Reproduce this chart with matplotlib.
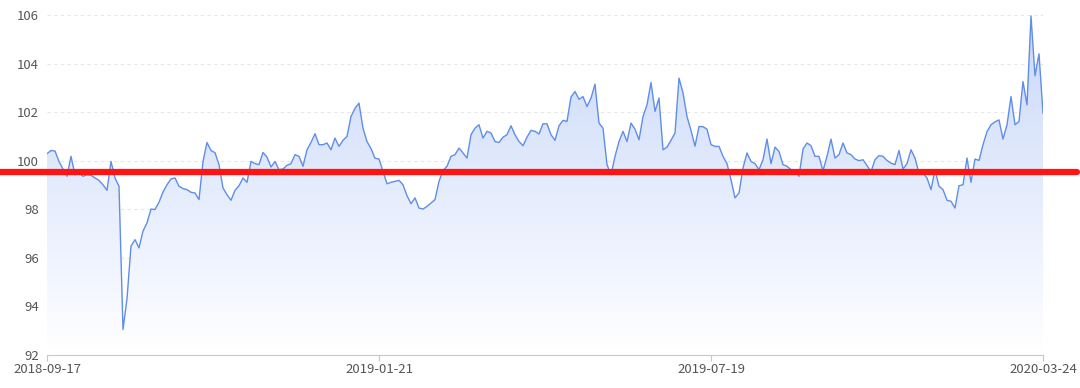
import numpy as np
import matplotlib
matplotlib.use("Agg")
import matplotlib.pyplot as plt
from matplotlib.colors import LinearSegmentedColormap

plt.rcParams['font.family'] = ['Noto Sans CJK SC', 'DejaVu Sans']

# values, one per category step
values = [
    100.29, 100.42, 100.40, 99.97, 99.66, 99.36, 100.18, 99.42, 99.49, 99.36,
    99.42, 99.40, 99.29, 99.19, 99.01, 98.78, 99.97, 99.29, 98.95, 93.05,
    94.32, 96.48, 96.75, 96.41, 97.10, 97.44, 98.01, 97.99, 98.29, 98.71,
    99.01, 99.25, 99.29, 98.95, 98.85, 98.81, 98.70, 98.67, 98.40, 99.97,
    100.75, 100.42, 100.33, 99.84, 98.88, 98.60, 98.37, 98.78, 98.97, 99.29,
    99.11, 99.97, 99.88, 99.84, 100.34, 100.15, 99.74, 99.97, 99.63, 99.66,
    99.81, 99.88, 100.25, 100.18, 99.77, 100.45, 100.75, 101.11, 100.66, 100.66,
    100.73, 100.45, 100.93, 100.59, 100.84, 101.00, 101.82, 102.16, 102.37, 101.34,
    100.79, 100.50, 100.10, 100.07, 99.56, 99.05, 99.11, 99.15, 99.19, 99.01,
    98.56, 98.23, 98.47, 98.05, 98.01, 98.12, 98.26, 98.40, 99.15, 99.60,
    99.77, 100.18, 100.25, 100.52, 100.32, 100.11, 101.07, 101.34, 101.48, 100.93,
    101.21, 101.14, 100.79, 100.75, 100.97, 101.07, 101.44, 101.07, 100.79, 100.62,
    100.97, 101.25, 101.21, 101.10, 101.52, 101.52, 101.07, 100.84, 101.44, 101.66,
    101.62, 102.62, 102.85, 102.53, 102.64, 102.23, 102.58, 103.15, 101.55, 101.34,
    99.84, 99.42, 100.18, 100.79, 101.21, 100.79, 101.55, 101.30, 100.86, 101.82,
    102.30, 103.22, 102.03, 102.58, 100.45, 100.56, 100.84, 101.14, 103.40, 102.80,
    101.82, 101.25, 100.60, 101.41, 101.40, 101.30, 100.66, 100.59, 100.59, 100.18,
    99.88, 99.22, 98.47, 98.67, 99.70, 100.32, 99.97, 99.88, 99.63, 100.04,
    100.89, 99.88, 100.56, 100.38, 99.84, 99.77, 99.63, 99.60, 99.36, 100.48,
    100.73, 100.62, 100.18, 100.18, 99.59, 100.18, 100.89, 100.11, 100.25, 100.73,
    100.32, 100.25, 100.07, 100.00, 100.04, 99.80, 99.55, 100.04, 100.21, 100.18,
    100.01, 99.90, 99.84, 100.42, 99.66, 99.88, 100.45, 100.11, 99.49, 99.49,
    99.29, 98.81, 99.63, 98.95, 98.81, 98.37, 98.33, 98.05, 98.97, 99.01,
    100.11, 99.11, 100.07, 100.01, 100.66, 101.20, 101.48, 101.60, 101.68, 100.89,
    101.48, 102.64, 101.48, 101.62, 103.26, 102.30, 105.96, 103.50, 104.40, 101.96,
]
tick_labels = ['2018-09-17', '2019-01-21', '2019-07-19', '2020-03-24']
ref_level = 99.55

x = np.arange(len(values))
last = len(values) - 1
tick_pos = [0, last // 3, 2 * last // 3, last]

fig = plt.figure(figsize=(10.8, 3.88), dpi=100)
ax = fig.add_axes([47 / 1080, 1 - 355 / 388, 996 / 1080, 340 / 388])
ax.set_xlim(0, last)
ax.set_ylim(92, 106)

# gradient area under the line
cmap = LinearSegmentedColormap.from_list('area', ['#ffffff', '#edf2fe', '#dbe5fb', '#c9d8f9'])
grad = np.linspace(0, 1, 256).reshape(-1, 1)
img = ax.imshow(grad, extent=[0, last, 92, 106], origin='lower', aspect='auto',
                cmap=cmap, zorder=1)
area = ax.fill_between(x, values, 92, facecolor='none', edgecolor='none')
img.set_clip_path(area.get_paths()[0], transform=ax.transData)

ax.plot(x, values, color='#5f8ee8', lw=1.0, zorder=3)

ax.axhline(ref_level, xmin=-47 / 996, xmax=1077 / 996 - 47 / 996,
           color='#ff1414', lw=4.5, solid_capstyle='round', clip_on=False, zorder=5)

ax.set_yticks(np.arange(92, 107, 2))
ax.grid(axis='y', color='#e6e6e6', linestyle=(0, (3, 3)), lw=0.8)
ax.set_axisbelow(True)
ax.set_xticks(tick_pos)
ax.set_xticklabels(tick_labels)

for s in ['top', 'right', 'left']:
    ax.spines[s].set_visible(False)
ax.spines['bottom'].set_color('#c8c8c8')
ax.tick_params(axis='y', length=0, pad=6, labelsize=9.5, labelcolor='#555555')
ax.tick_params(axis='x', length=4, color='#c8c8c8', pad=2, labelsize=9.5,
               labelcolor='#555555')

fig.savefig('out.png', dpi=100)
